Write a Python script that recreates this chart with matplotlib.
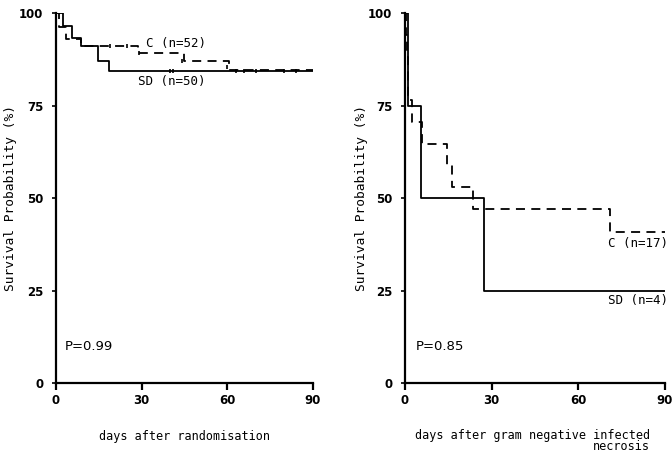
import matplotlib
matplotlib.use("Agg")
import matplotlib.pyplot as plt

# Left panel: days after randomisation
left_sd_t = [0, 2.5, 5.6, 8.6, 14.7, 18.5, 90]
left_sd_s = [100, 96.5, 93.2, 91.2, 87.0, 84.3, 84.3]
left_c_t = [0, 1.0, 3.5, 8.6, 28.6, 45.0, 60.6, 90]
left_c_s = [100, 96.2, 92.9, 91.0, 89.3, 87.0, 84.5, 84.5]
left_sd_cens_t = [40, 41, 63, 66, 70, 80, 84]
left_sd_cens_s = [84.3, 84.3, 84.3, 84.3, 84.3, 84.3, 84.3]
left_c_cens_t = [19, 25, 29, 44, 60]
left_c_cens_s = [91.0, 91.0, 89.3, 87.0, 85.3]

# Right panel: days after gram negative infected necrosis
right_sd_t = [0, 1.0, 5.5, 27.3, 90]
right_sd_s = [100, 75, 50, 25, 25]
right_c_t = [0, 0.3, 0.6, 0.9, 1.2, 2.3, 6.0, 14.4, 16.2, 23.5, 71.0, 90]
right_c_s = [100, 94.1, 88.2, 82.4, 76.5, 70.6, 64.7, 58.8, 52.9, 47.0, 40.8, 40.8]

x_ticks = [0, 30, 60, 90]
y_ticks = [0, 25, 50, 75, 100]

fig = plt.figure(figsize=(6.72, 4.53), dpi=100)
axL = fig.add_axes([0.0833, 0.1545, 0.3824, 0.8168])
axR = fig.add_axes([0.6027, 0.1545, 0.3869, 0.8168])

mono = "DejaVu Sans Mono"
dash = (0, (5, 3.5))

def style(ax, ylab_x):
    ax.set_xlim(0, 90)
    ax.set_ylim(0, 100)
    ax.set_xticks(x_ticks)
    ax.set_yticks(y_ticks)
    for s in ["top", "right"]:
        ax.spines[s].set_visible(False)
    for s in ["left", "bottom"]:
        ax.spines[s].set_linewidth(1.6)
        ax.spines[s].set_color("black")
    ax.tick_params(axis="x", direction="out", length=5, width=1.6, labelsize=8.5, pad=3)
    ax.tick_params(axis="y", direction="out", length=3, width=1.2, labelsize=8.5, pad=6)
    for lab in ax.get_xticklabels() + ax.get_yticklabels():
        lab.set_fontweight("bold")
    ax.set_ylabel("Survival Probability (%)", fontsize=9.3, family=mono)
    ax.yaxis.set_label_coords(ylab_x, 0.5)

# Left
axL.step(left_sd_t, left_sd_s, where="post", color="black", lw=1.3)
axL.step(left_c_t, left_c_s, where="post", color="black", lw=1.3, linestyle=dash)
axL.plot(left_sd_cens_t, left_sd_cens_s, linestyle="none", marker="|", color="black", ms=3, mew=1.2)
axL.plot(left_c_cens_t, left_c_cens_s, linestyle="none", marker="|", color="black", ms=3, mew=1.2)
style(axL, -0.153)
axL.text(31.4, 91.8, "C (n=52)", fontsize=9, family=mono, va="center")
axL.text(28.6, 81.6, "SD (n=50)", fontsize=9, family=mono, va="center")
axL.text(3.1, 10, "P=0.99", fontsize=9.5, va="center")
axL.set_xlabel("days after randomisation", fontsize=8.5, family=mono)
axL.xaxis.set_label_coords(0.5, -0.128)

# Right
axR.step(right_sd_t, right_sd_s, where="post", color="black", lw=1.3)
axR.step(right_c_t, right_c_s, where="post", color="black", lw=1.3, linestyle=dash)
style(axR, -0.143)
axR.text(70.3, 37.8, "C (n=17)", fontsize=9, family=mono, va="center")
axR.text(70.3, 22.4, "SD (n=4)", fontsize=9, family=mono, va="center")
axR.text(3.7, 10, "P=0.85", fontsize=9.5, va="center")
axR.set_xlabel("days after gram negative infected\nnecrosis", fontsize=8.5,
               family=mono, linespacing=0.8, multialignment="right")
axR.xaxis.set_label_coords(0.49, -0.124)

fig.savefig("out.png", dpi=100)
